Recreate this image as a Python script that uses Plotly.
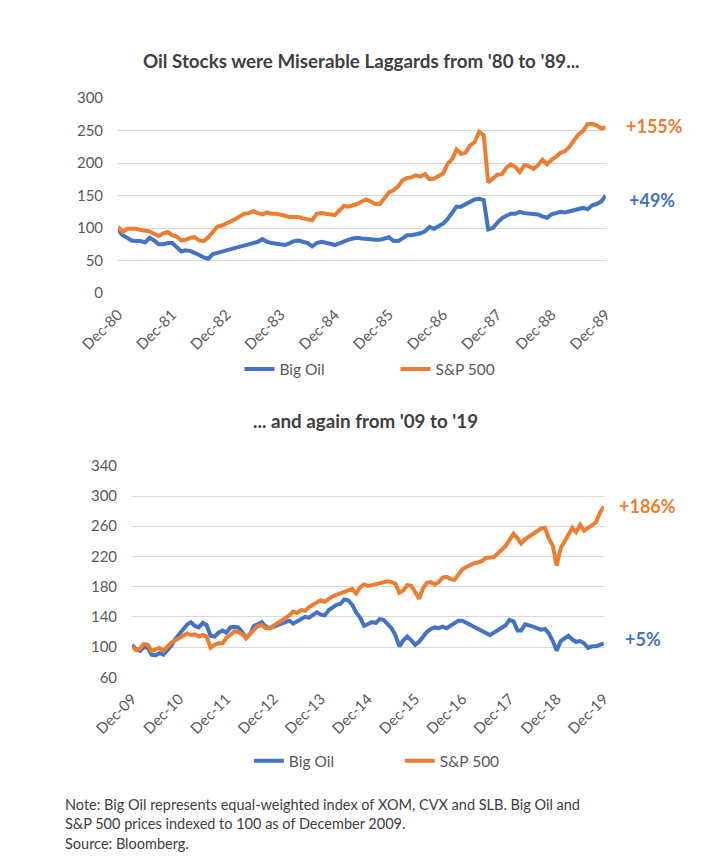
import pandas as pd
import plotly.graph_objects as go

# ---------------- data ----------------
dates_80s = pd.date_range("1980-12-01", "1989-12-01", freq="MS")
dates_10s = pd.date_range("2009-12-01", "2019-12-01", freq="MS")

big_oil_80s = [
    97, 89, 85, 81, 80, 80, 78, 85, 81, 75, 75, 77,
    77, 70, 64, 66, 65, 62, 58, 55, 53, 60, 62, 64,
    66, 68, 70, 72, 74, 76, 77, 79, 83, 79, 77, 76,
    75, 74, 77, 80, 81, 79, 77, 72, 77, 79, 78, 76,
    74, 77, 80, 82, 84, 85, 84, 84, 83, 82, 82, 84,
    86, 80, 80, 84, 89, 89, 90, 92, 95, 102, 99, 103,
    107, 114, 125, 133, 133, 137, 140, 144, 145, 143, 98, 100,
    108, 115, 119, 122, 122, 125, 123, 122, 121, 121, 118, 116,
    121, 123, 125, 124, 126, 127, 129, 131, 129, 135, 137, 141,
    150,
]
sp500_80s = [
    102, 94, 99, 99, 99, 97, 96, 95, 91, 88, 92, 94,
    89, 87, 81, 82, 85, 86, 81, 80, 86, 94, 102, 104,
    107, 111, 114, 118, 122, 123, 126, 123, 121, 124, 122, 122,
    121, 119, 117, 117, 117, 115, 114, 112, 122, 123, 122, 121,
    120, 127, 134, 133, 135, 137, 141, 144, 141, 137, 137, 147,
    155, 158, 164, 173, 177, 178, 181, 179, 183, 175, 176, 180,
    184, 199, 206, 221, 214, 216, 227, 232, 248, 243, 170, 176,
    182, 183, 193, 198, 194, 186, 197, 195, 191, 197, 205, 198,
    205, 210, 216, 218, 225, 235, 244, 249, 260, 260, 258, 253,
    255,
]
big_oil_10s = [
    103, 97, 95, 100, 99, 90, 89, 92, 90, 96, 102, 111,
    117, 123, 130, 133, 128, 126, 132, 129, 115, 114, 119, 122,
    119, 126, 127, 126, 120, 112, 117, 128, 131, 133, 127, 125,
    127, 129, 130, 132, 135, 131, 134, 136, 140, 139, 143, 146,
    143, 142, 149, 152, 156, 157, 163, 162, 156, 146, 139, 128,
    130, 133, 132, 137, 136, 131, 125, 116, 101, 109, 114, 109,
    103, 107, 114, 120, 124, 126, 125, 127, 125, 128, 131, 135,
    135, 132, 129, 127, 124, 121, 118, 116, 119, 122, 125, 129,
    136, 134, 122, 122, 130, 129, 127, 125, 123, 124, 118, 108,
    95, 108, 112, 115, 110, 107, 108, 105, 99, 101, 101, 103,
    105,
]
sp500_10s = [
    101, 96, 98, 104, 103, 95, 97, 99, 95, 100, 106, 109,
    112, 115, 118, 116, 117, 114, 116, 114, 99, 103, 105, 105,
    112, 116, 121, 120, 117, 112, 117, 123, 128, 129, 125, 125,
    129, 132, 135, 138, 142, 147, 145, 149, 148, 153, 156, 160,
    162, 160, 164, 167, 169, 171, 174, 176, 177, 171, 179, 183,
    181, 182, 183, 185, 186, 187, 186, 184, 172, 175, 182, 181,
    173, 164, 178, 185, 186, 183, 186, 192, 193, 190, 189, 197,
    203, 206, 209, 211, 212, 214, 218, 219, 219, 224, 229, 234,
    242, 250, 244, 237, 243, 246, 249, 253, 257, 258, 244, 234,
    208, 231, 240, 248, 258, 252, 262, 254, 258, 261, 265, 278,
    286,
]

tick_dates_80s = pd.date_range("1980-12-01", "1989-12-01", freq="12MS")
tick_labels_80s = ["Dec-80", "Dec-81", "Dec-82", "Dec-83", "Dec-84",
                   "Dec-85", "Dec-86", "Dec-87", "Dec-88", "Dec-89"]
tick_dates_10s = pd.date_range("2009-12-01", "2019-12-01", freq="12MS")
tick_labels_10s = ["Dec-09", "Dec-10", "Dec-11", "Dec-12", "Dec-13", "Dec-14",
                   "Dec-15", "Dec-16", "Dec-17", "Dec-18", "Dec-19"]
y_ticks_80s = [0, 50, 100, 150, 200, 250, 300]
y_ticks_10s = [60, 100, 140, 180, 220, 260, 300, 340]

series_names = ["Big Oil", "S&P 500"]
title_top = "Oil Stocks were Miserable Laggards from '80 to '89..."
title_bottom = "... and again from '09 to '19"
labels_80s = ["+49%", "+155%"]
labels_10s = ["+5%", "+186%"]
notes = [
    "Note: Big Oil represents equal-weighted index of XOM, CVX and SLB. Big Oil and",
    "S&P 500 prices indexed to 100 as of December 2009.",
    "Source: Bloomberg.",
]

# ---------------- style ----------------
W, H = 714, 866
BLUE = "#4472C4"
ORANGE = "#ED7D31"
GRID = "#D9D9D9"
TICK = "#595959"
TEXT = "#404040"
FONT = "Lato"
LW = 4


def px(p):
    return p / W


def py(p):
    return 1 - p / H


fig = go.Figure()
for name, vals, col in [(series_names[0], big_oil_80s, BLUE),
                        (series_names[1], sp500_80s, ORANGE)]:
    fig.add_trace(go.Scatter(x=dates_80s, y=vals, name=name, mode="lines",
                             line=dict(color=col, width=LW),
                             xaxis="x", yaxis="y", legend="legend"))
for name, vals, col in [(series_names[0], big_oil_10s, BLUE),
                        (series_names[1], sp500_10s, ORANGE)]:
    fig.add_trace(go.Scatter(x=dates_10s, y=vals, name=name, mode="lines",
                             line=dict(color=col, width=LW),
                             xaxis="x2", yaxis="y2", legend="legend2"))

tickfont = dict(family=FONT, size=15, color=TICK)
common_x = dict(type="date", showgrid=False, zeroline=False, showline=False,
                ticks="", tickangle=-45, tickfont=tickfont, fixedrange=True,
                ticklabelstandoff=9)
common_y = dict(showgrid=True, gridcolor=GRID, gridwidth=1.2, zeroline=False,
                showline=False, ticks="", tickfont=tickfont, fixedrange=True,
                ticklabelstandoff=14)

annotations = [
    dict(text="<b>" + title_top + "</b>", xref="paper", yref="paper",
         x=px(336), y=py(43), xanchor="center", yanchor="middle",
         showarrow=False, font=dict(family=FONT, size=18.8, color=TEXT)),
    dict(text="<b>" + title_bottom + "</b>", xref="paper", yref="paper",
         x=px(340), y=py(411), xanchor="center", yanchor="middle",
         showarrow=False, font=dict(family=FONT, size=18.8, color=TEXT)),
    dict(text="<b>" + labels_80s[1] + "</b>", xref="x", yref="y",
         x=dates_80s[-1], y=sp500_80s[-1], xanchor="left", yanchor="middle",
         xshift=18, yshift=1, showarrow=False,
         font=dict(family=FONT, size=18, color=ORANGE)),
    dict(text="<b>" + labels_80s[0] + "</b>", xref="x", yref="y",
         x=dates_80s[-1], y=big_oil_80s[-1], xanchor="left", yanchor="middle",
         xshift=21, yshift=-4, showarrow=False,
         font=dict(family=FONT, size=18, color=BLUE)),
    dict(text="<b>" + labels_10s[1] + "</b>", xref="x2", yref="y2",
         x=dates_10s[-1], y=sp500_10s[-1], xanchor="left", yanchor="middle",
         xshift=13, yshift=1, showarrow=False,
         font=dict(family=FONT, size=18, color=ORANGE)),
    dict(text="<b>" + labels_10s[0] + "</b>", xref="x2", yref="y2",
         x=dates_10s[-1], y=big_oil_10s[-1], xanchor="left", yanchor="middle",
         xshift=19, yshift=4, showarrow=False,
         font=dict(family=FONT, size=18, color=BLUE)),
]
for i, line in enumerate(notes):
    annotations.append(dict(text=line, xref="paper", yref="paper",
                            x=px(16), y=py(803 + 20 * i), xanchor="left",
                            yanchor="middle", showarrow=False,
                            font=dict(family=FONT, size=14.5, color=TEXT)))

fig.update_layout(
    width=W, height=H,
    margin=dict(l=0, r=0, t=0, b=0),
    paper_bgcolor="white", plot_bgcolor="white",
    font=dict(family=FONT, color=TICK),
    showlegend=True,
    xaxis=dict(common_x, domain=[px(75), px(597)], anchor="y",
               range=[dates_80s[0], dates_80s[-1]],
               tickvals=tick_dates_80s, ticktext=tick_labels_80s),
    yaxis=dict(common_y, domain=[py(281), py(81.7)], anchor="x",
               range=[0, 300], tickvals=y_ticks_80s),
    xaxis2=dict(common_x, domain=[px(90), px(595)], anchor="y2",
                range=[dates_10s[0], dates_10s[-1]],
                tickvals=tick_dates_10s, ticktext=tick_labels_10s),
    yaxis2=dict(common_y, domain=[py(673.3), py(457.3)], anchor="x2",
                range=[60, 340], tickvals=y_ticks_10s),
    legend=dict(orientation="h", x=px(205), y=py(359), xanchor="left",
                yanchor="middle", entrywidth=111, bgcolor="rgba(0,0,0,0)",
                font=dict(family=FONT, size=15.5, color=TICK)),
    legend2=dict(orientation="h", x=px(215), y=py(759), xanchor="left",
                 yanchor="middle", entrywidth=106, bgcolor="rgba(0,0,0,0)",
                 font=dict(family=FONT, size=15.5, color=TICK)),
    annotations=annotations,
)

fig.write_html("out.html")
